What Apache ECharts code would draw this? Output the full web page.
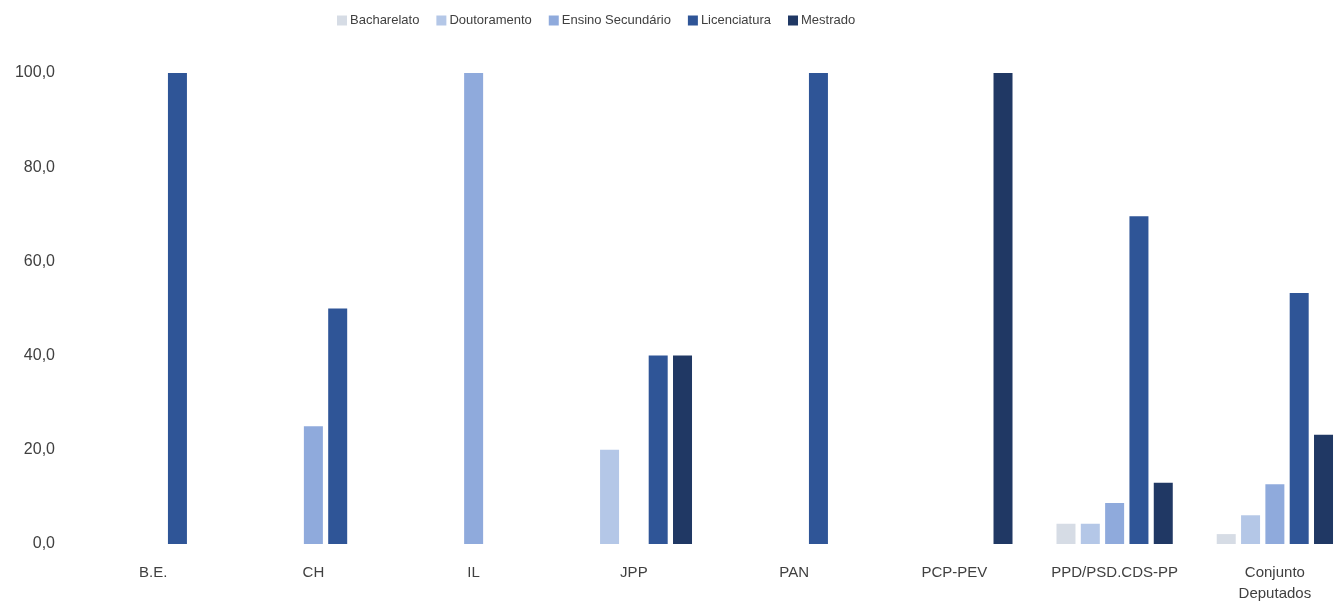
<!DOCTYPE html>
<html>
<head>
<meta charset="utf-8">
<script src="https://cdn.jsdelivr.net/npm/echarts@6/dist/echarts.min.js"></script>
<style>html,body{margin:0;padding:0;background:#fff;overflow:hidden;}#c{width:1400px;height:604px;}</style>
</head>
<body>
<div id="c"></div>
<script>
const categories = ['B.E.', 'CH', 'IL', 'JPP', 'PAN', 'PCP-PEV', 'PPD/PSD.CDS-PP', 'Conjunto\nDeputados'];
const bacharelato   = [0, 0, 0, 0, 0, 0, 4.3, 2.1];
const doutoramento  = [0, 0, 0, 20, 0, 0, 4.3, 6.1];
const ensinoSec     = [0, 25, 100, 0, 0, 0, 8.7, 12.7];
const licenciatura  = [100, 50, 0, 40, 100, 0, 69.6, 53.3];
const mestrado      = [0, 0, 0, 40, 0, 100, 13.0, 23.2];
const seriesNames = ['Bacharelato', 'Doutoramento', 'Ensino Secundário', 'Licenciatura', 'Mestrado'];
const seriesData = [bacharelato, doutoramento, ensinoSec, licenciatura, mestrado];
const colors = ['#d6dce5', '#b4c7e7', '#8faadc', '#2f5597', '#203864'];

const chart = echarts.init(document.getElementById('c'), null, {renderer: 'canvas'});
const font = 'Liberation Sans';
chart.setOption({
  animation: false,
  color: colors,
  textStyle: {fontFamily: font},
  legend: {
    left: 332, top: 9,
    itemWidth: 10, itemHeight: 10, itemGap: 17,
    icon: 'rect',
    textStyle: {color: '#404040', fontSize: 13, fontFamily: font, padding: [0, 0, 0, -2]},
    data: seriesNames
  },
  grid: {left: 73, top: 73, width: 1282, height: 472, containLabel: false},
  xAxis: {
    type: 'category',
    data: categories,
    axisLine: {show: false},
    axisTick: {show: false},
    axisLabel: {color: '#404040', fontSize: 15, fontFamily: font, margin: 18, lineHeight: 21, interval: 0}
  },
  yAxis: {
    type: 'value', min: 0, max: 100, interval: 20,
    splitLine: {show: false},
    axisLine: {show: false},
    axisTick: {show: false},
    axisLabel: {
      color: '#404040', fontSize: 16, fontFamily: font, margin: 18,
      formatter: v => v.toFixed(1).replace('.', ',')
    }
  },
  series: seriesNames.map((n, i) => ({
    name: n,
    type: 'bar',
    barWidth: 19,
    barGap: '28%',
    data: seriesData[i].map(v => v === 0 ? '-' : v),
    itemStyle: {color: colors[i]}
  }))
});
</script>
</body>
</html>
